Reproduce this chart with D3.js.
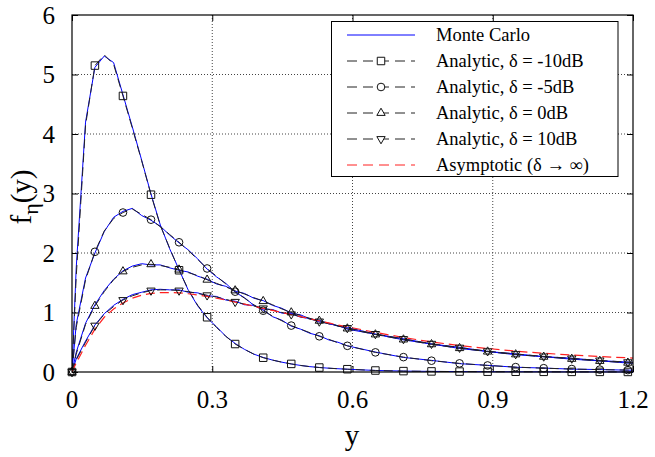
<!DOCTYPE html>
<html>
<head>
<meta charset="utf-8">
<script src="https://cdn.jsdelivr.net/npm/d3@7"></script>
<style>
  body { margin: 0; background: #fff; }
  svg { display: block; }
</style>
</head>
<body>
<svg></svg>
<script>
// sample points along y (dense near the peaks, every marker further out)
const xs = [
  0, 0.009, 0.029, 0.049, 0.069, 0.089, 0.109, 0.129, 0.149, 0.169, 0.189, 0.209, 0.229, 0.249, 0.269,
  0.289, 0.309, 0.329, 0.349, 0.369, 0.389, 0.409, 0.429, 0.449, 0.469, 0.489, 0.509, 0.529, 0.549,
  0.569, 0.589, 0.649, 0.709, 0.769, 0.829, 0.889, 0.949, 1.009, 1.069, 1.129, 1.189, 1.249,
]

// analytic curves
const neg10 = [
  0, 1.6, 4.15, 5.15, 5.33, 5.17, 4.64, 4.1, 3.55, 2.98, 2.46, 2.08, 1.71, 1.38, 1.12, 0.92, 0.75, 0.6,
  0.47, 0.38, 0.3, 0.24, 0.2, 0.165, 0.136, 0.11, 0.09, 0.075, 0.064, 0.055, 0.047, 0.025, 0.015, 0.01,
  0.007, 0.005, 0.004, 0.003, 0.002, 0.002, 0.001, 0.001,
]
const neg5 = [
  0, 0.75, 1.55, 2.02, 2.37, 2.58, 2.68, 2.74, 2.65, 2.56, 2.44, 2.31, 2.18, 2.04, 1.89, 1.74, 1.61, 1.48,
  1.35, 1.24, 1.13, 1.03, 0.94, 0.86, 0.78, 0.72, 0.66, 0.6, 0.55, 0.49, 0.44, 0.33, 0.25, 0.19, 0.145,
  0.11, 0.082, 0.064, 0.05, 0.04, 0.032, 0.026,
]
const zero = [
  0, 0.3, 0.8, 1.11, 1.35, 1.55, 1.69, 1.76, 1.8, 1.81, 1.79, 1.76, 1.72, 1.67, 1.62, 1.55, 1.49, 1.43,
  1.37, 1.31, 1.25, 1.19, 1.13, 1.06, 1.0, 0.95, 0.9, 0.86, 0.82, 0.775, 0.73, 0.63, 0.545, 0.465, 0.4,
  0.342, 0.295, 0.255, 0.22, 0.185, 0.155, 0.135,
]
const ten = [
  0, 0.2, 0.5, 0.78, 0.97, 1.1, 1.21, 1.28, 1.33, 1.37, 1.38, 1.38, 1.37, 1.35, 1.32, 1.29, 1.26, 1.22,
  1.18, 1.14, 1.11, 1.07, 1.04, 1.0, 0.97, 0.93, 0.89, 0.85, 0.81, 0.775, 0.74, 0.64, 0.555, 0.475, 0.41,
  0.35, 0.302, 0.262, 0.228, 0.195, 0.165, 0.145,
]
const asym = [
  0, 0.15, 0.45, 0.72, 0.92, 1.06, 1.16, 1.24, 1.29, 1.32, 1.335, 1.335, 1.33, 1.315, 1.295, 1.27, 1.24,
  1.21, 1.175, 1.14, 1.105, 1.07, 1.035, 1.0, 0.965, 0.93, 0.895, 0.86, 0.825, 0.79, 0.76, 0.665, 0.58,
  0.505, 0.445, 0.395, 0.35, 0.315, 0.285, 0.26, 0.238, 0.218,
]

// monte carlo curves
const mcNeg10 = [
  0, 1.75, 4.2, 5.12, 5.31, 5.2, 4.66, 4.12, 3.56, 2.99, 2.47, 2.07, 1.72, 1.37, 1.11, 0.91, 0.76, 0.6,
  0.48, 0.38, 0.3, 0.245, 0.2, 0.165, 0.135, 0.11, 0.09, 0.076, 0.064, 0.055, 0.046, 0.026, 0.015, 0.01,
  0.007, 0.005, 0.004, 0.003, 0.002, 0.002, 0.001, 0.001,
]
const mcNeg5 = [
  0, 0.8, 1.58, 2.0, 2.36, 2.6, 2.7, 2.75, 2.63, 2.55, 2.45, 2.3, 2.17, 2.05, 1.9, 1.73, 1.6, 1.49, 1.34,
  1.25, 1.12, 1.04, 0.93, 0.87, 0.77, 0.72, 0.65, 0.61, 0.54, 0.5, 0.44, 0.335, 0.245, 0.195, 0.14, 0.112,
  0.08, 0.066, 0.048, 0.041, 0.031, 0.027,
]
const mcZero = [
  0, 0.33, 0.82, 1.13, 1.37, 1.56, 1.7, 1.78, 1.82, 1.8, 1.8, 1.75, 1.71, 1.68, 1.61, 1.56, 1.48, 1.44,
  1.36, 1.32, 1.24, 1.2, 1.12, 1.07, 0.99, 0.96, 0.89, 0.87, 0.81, 0.78, 0.72, 0.635, 0.54, 0.47, 0.395,
  0.345, 0.29, 0.258, 0.215, 0.188, 0.15, 0.137,
]
const mcTen = [
  0, 0.22, 0.52, 0.79, 0.98, 1.12, 1.22, 1.3, 1.34, 1.38, 1.39, 1.38, 1.38, 1.34, 1.33, 1.28, 1.27, 1.21,
  1.19, 1.13, 1.12, 1.06, 1.05, 0.99, 0.98, 0.92, 0.9, 0.84, 0.82, 0.77, 0.75, 0.635, 0.56, 0.47, 0.415,
  0.345, 0.305, 0.258, 0.232, 0.19, 0.168, 0.142,
]

const xTicks = [0, 0.3, 0.6, 0.9, 1.2]
const yTicks = [0, 1, 2, 3, 4, 5, 6]

const svgWidth = 655
const svgHeight = 457
const plot = { left: 72, right: 633, top: 15, bottom: 372 }
const serif = "'Liberation Serif', 'DejaVu Serif', 'Times New Roman', serif"

const svg = d3
  .select('svg')
  .attr('width', svgWidth)
  .attr('height', svgHeight)
  .attr('font-family', serif)

const x = d3.scaleLinear().domain([0, 1.2]).range([plot.left, plot.right])
const y = d3.scaleLinear().domain([0, 6]).range([plot.bottom, plot.top])

svg
  .append('clipPath')
  .attr('id', 'clip')
  .append('rect')
  .attr('x', plot.left)
  .attr('y', plot.top - 5)
  .attr('width', plot.right - plot.left)
  .attr('height', plot.bottom - plot.top + 10)

// grid
const grid = svg.append('g').attr('stroke', '#444').attr('stroke-width', 1).attr('stroke-dasharray', '1,2')
grid
  .selectAll('line.gx')
  .data(xTicks.slice(1, -1))
  .join('line')
  .attr('x1', (d) => x(d))
  .attr('x2', (d) => x(d))
  .attr('y1', plot.top)
  .attr('y2', plot.bottom)
grid
  .selectAll('line.gy')
  .data(yTicks.slice(1, -1))
  .join('line')
  .attr('x1', plot.left)
  .attr('x2', plot.right)
  .attr('y1', (d) => y(d))
  .attr('y2', (d) => y(d))

// axes (inward ticks, mirrored)
const axisG = (axis, tx, ty) => {
  const g = svg.append('g').attr('transform', `translate(${tx},${ty})`).call(axis)
  g.select('.domain').remove()
  g.selectAll('line').attr('stroke', '#000')
  g.selectAll('text').remove()
  return g
}
axisG(d3.axisBottom(x).tickValues(xTicks).tickSizeInner(-6).tickSizeOuter(0), 0, plot.bottom)
axisG(d3.axisTop(x).tickValues(xTicks).tickSizeInner(-6).tickSizeOuter(0), 0, plot.top)
axisG(d3.axisLeft(y).tickValues(yTicks).tickSizeInner(-6).tickSizeOuter(0), plot.left, 0)
axisG(d3.axisRight(y).tickValues(yTicks).tickSizeInner(-6).tickSizeOuter(0), plot.right, 0)

// tick labels
svg
  .append('g')
  .selectAll('text')
  .data(xTicks)
  .join('text')
  .attr('x', (d) => x(d))
  .attr('y', 408)
  .attr('text-anchor', 'middle')
  .attr('font-size', 25)
  .text((d) => d)
svg
  .append('g')
  .selectAll('text')
  .data(yTicks)
  .join('text')
  .attr('x', 55)
  .attr('y', (d) => y(d) + 8.5)
  .attr('text-anchor', 'end')
  .attr('font-size', 25)
  .text((d) => d)

// axis titles
svg
  .append('text')
  .attr('x', 352)
  .attr('y', 445)
  .attr('text-anchor', 'middle')
  .attr('font-size', 29)
  .text('y')
const yTitle = svg
  .append('text')
  .attr('transform', 'translate(31,197) rotate(-90)')
  .attr('text-anchor', 'middle')
  .attr('font-size', 29)
yTitle.append('tspan').text('f')
yTitle.append('tspan').attr('dy', 7).attr('font-size', 22).text('η')
yTitle.append('tspan').attr('dy', -7).text('(y)')

// series
const series = [
  { name: 'Analytic, δ = -10dB', values: neg10, mc: mcNeg10, symbol: d3.symbolSquare, size: 56, rot: 0 },
  { name: 'Analytic, δ = -5dB', values: neg5, mc: mcNeg5, symbol: d3.symbolCircle, size: 46, rot: 0 },
  { name: 'Analytic, δ = 0dB', values: zero, mc: mcZero, symbol: d3.symbolTriangle, size: 30, rot: 0 },
  { name: 'Analytic, δ = 10dB', values: ten, mc: mcTen, symbol: d3.symbolTriangle, size: 30, rot: 180 },
]

const line = d3
  .line()
  .x((d) => x(d[0]))
  .y((d) => y(d[1]))

const pts = (vals) => xs.map((v, i) => [v, vals[i]])

const isMarker = (v) => v === 0 || (v <= 1.2 && Math.abs((v - 0.049) / 0.06 - Math.round((v - 0.049) / 0.06)) < 1e-6)

const lines = svg.append('g').attr('clip-path', 'url(#clip)').attr('fill', 'none')

// monte carlo first
series.forEach((s) => {
  lines.append('path').attr('d', line(pts(s.mc))).attr('stroke', '#0000ff').attr('stroke-width', 1)
})

series.forEach((s) => {
  lines
    .append('path')
    .attr('d', line(pts(s.values)))
    .attr('stroke', '#222')
    .attr('stroke-width', 1)
    .attr('stroke-dasharray', '9,5')
})

lines
  .append('path')
  .attr('d', line(pts(asym)))
  .attr('stroke', '#ff2020')
  .attr('stroke-width', 1.2)
  .attr('stroke-dasharray', '9,5')

// markers
series.forEach((s) => {
  svg
    .append('g')
    .selectAll('path')
    .data(pts(s.values).filter((d) => isMarker(d[0])))
    .join('path')
    .attr('d', d3.symbol().type(s.symbol).size(s.size))
    .attr('transform', (d) => `translate(${x(d[0])},${y(d[1])}) rotate(${s.rot})`)
    .attr('fill', 'none')
    .attr('stroke', '#111')
    .attr('stroke-width', 1)
})

// frame
svg
  .append('rect')
  .attr('x', plot.left)
  .attr('y', plot.top)
  .attr('width', plot.right - plot.left)
  .attr('height', plot.bottom - plot.top)
  .attr('fill', 'none')
  .attr('stroke', '#000')
  .attr('stroke-width', 1.2)

// legend
const legend = svg.append('g')
legend
  .append('rect')
  .attr('x', 331.5)
  .attr('y', 21.5)
  .attr('width', 286.5)
  .attr('height', 155)
  .attr('fill', '#fff')
  .attr('stroke', '#000')
  .attr('stroke-width', 1)

const legendItems = [
  { name: 'Monte Carlo', color: '#0000ff', dash: null },
  ...series.map((s) => ({ name: s.name, color: '#222', dash: '10,6', s })),
  { name: 'Asymptotic (δ → ∞)', color: '#ff2020', dash: '10,6' },
]

legendItems.forEach((item, i) => {
  const ly = 35 + i * 26
  legend
    .append('line')
    .attr('x1', 347)
    .attr('x2', 415)
    .attr('y1', ly)
    .attr('y2', ly)
    .attr('stroke', item.color)
    .attr('stroke-width', 1)
    .attr('stroke-dasharray', item.dash)
  if (item.s) {
    legend
      .append('path')
      .attr('d', d3.symbol().type(item.s.symbol).size(item.s.size))
      .attr('transform', `translate(381,${ly}) rotate(${item.s.rot})`)
      .attr('fill', '#fff')
      .attr('stroke', '#111')
  }
  legend
    .append('text')
    .attr('x', 436)
    .attr('y', ly + 6)
    .attr('font-size', 18.5)
    .text(item.name)
})
</script>
</body>
</html>
